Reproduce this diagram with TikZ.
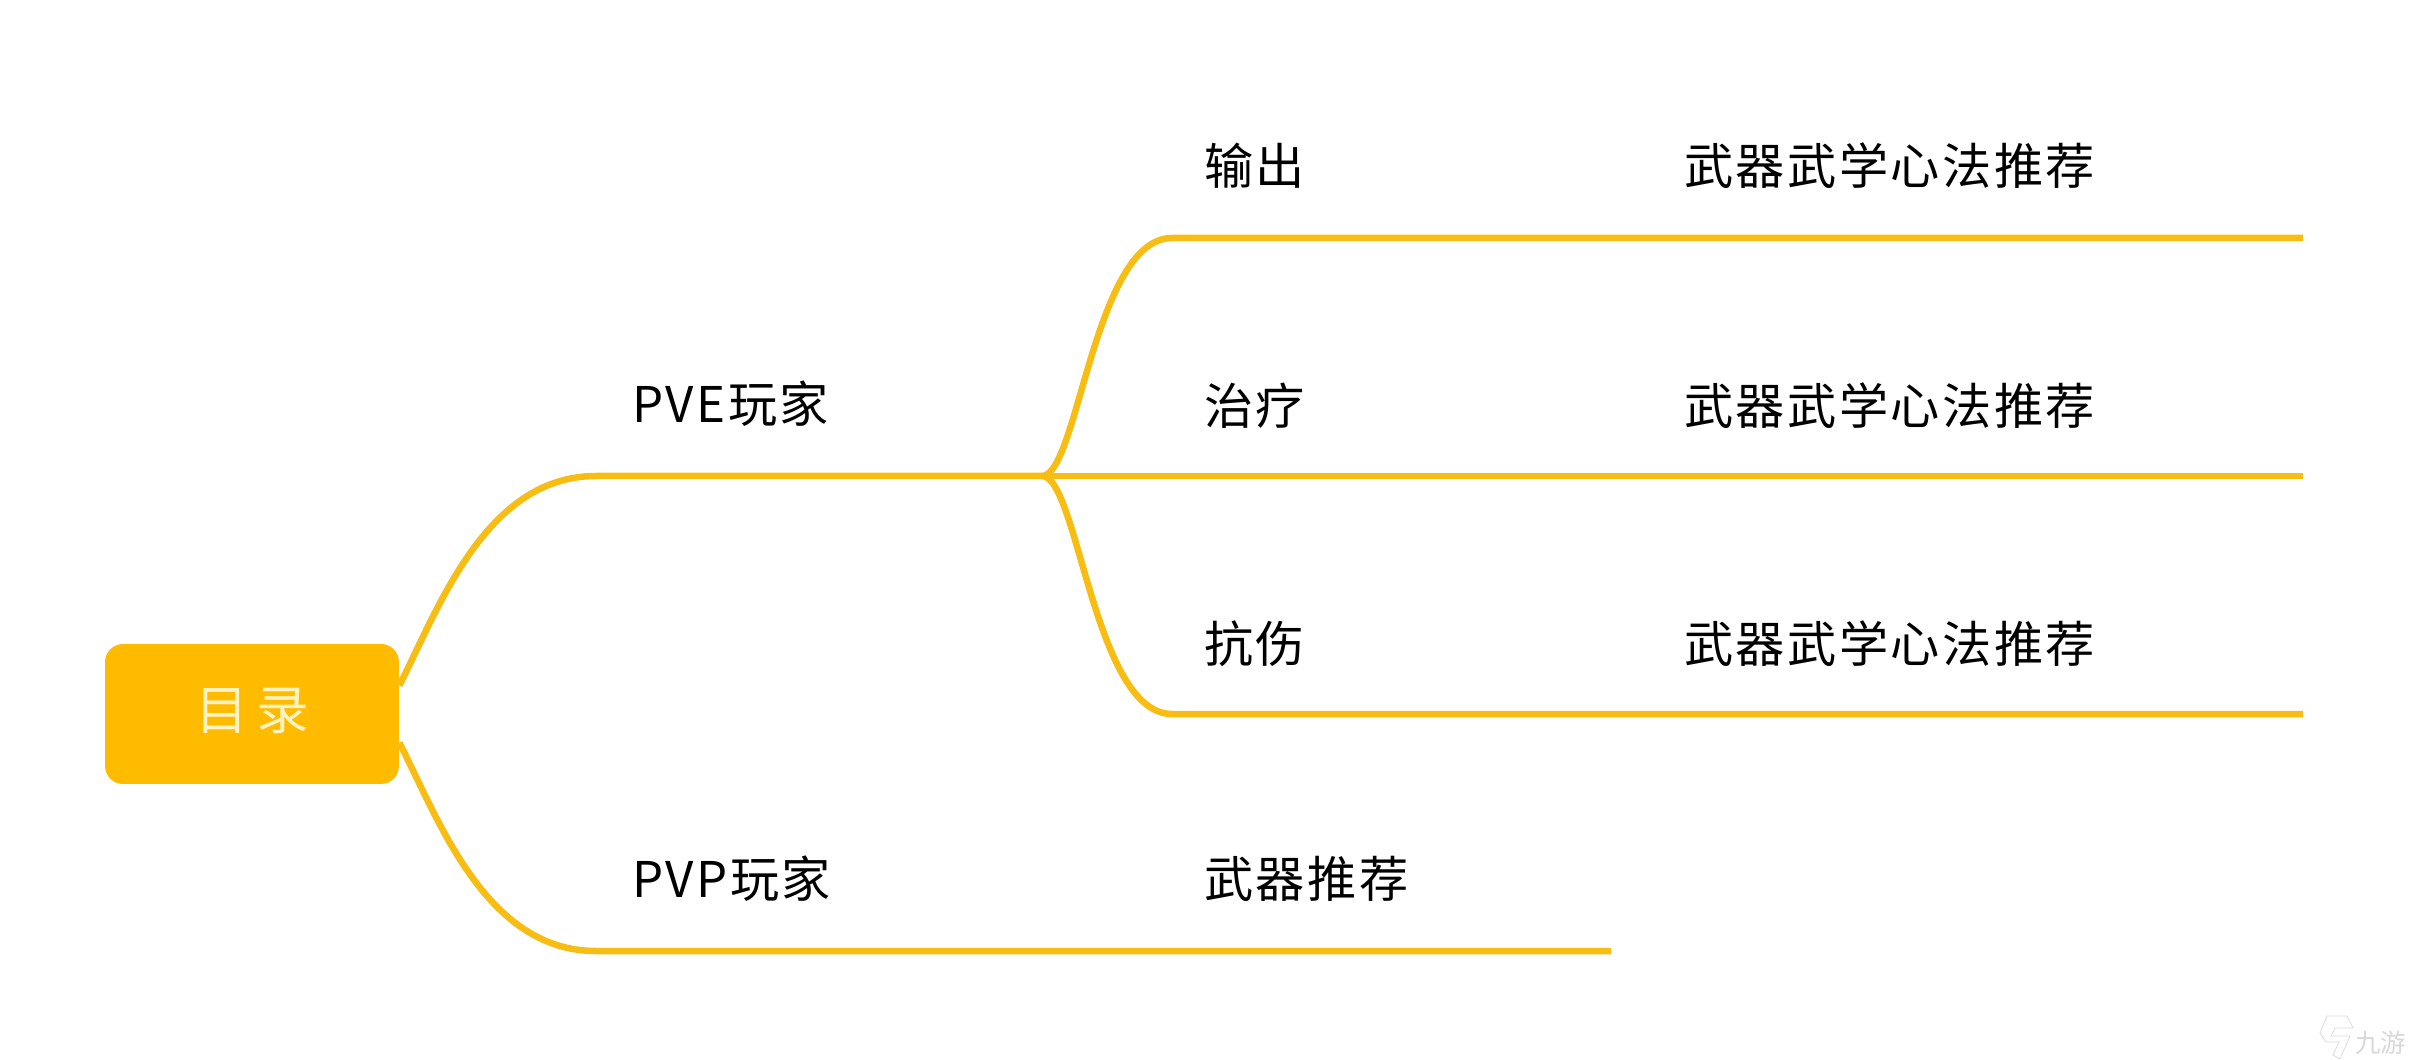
\documentclass[tikz,border=0pt]{standalone}
\usepackage{fontspec}
\setmainfont{Noto Sans CJK SC}
\newfontfamily\spaced[LetterSpace=5]{Noto Sans CJK SC}
\newfontfamily\wide[LetterSpace=16]{Noto Sans CJK SC}
\definecolor{rootfill}{HTML}{FFBB00}
\definecolor{branchline}{HTML}{F7BD12}
\definecolor{rootink}{HTML}{FFF2C2}
\definecolor{markgray}{HTML}{D8D8D8}

\begin{document}
\begin{tikzpicture}[x=0.02cm,y=-0.02cm,
    topic/.style ={rectangle, fill=rootfill, rounded corners=0.36cm, inner sep = 0pt, minimum width=5.88cm, minimum height=2.8cm},
    leaf/.style ={anchor=west, inner sep = 0pt, font=\fontsize{28}{32}\spaced},
    branch/.style ={draw=branchline, line width=0.13cm}]
   \useasboundingbox (0,0) rectangle (2410,1060);

   \node[topic] (root) at (252,714) {\fontsize{30}{34}\wide\raisebox{0.2cm}{\textcolor{rootink}{目录}}};

   \node[leaf] (pve) at (632,404) {PVE玩家};
   \node[leaf] (pvp) at (632,879) {PVP玩家};
   \node[leaf] (dps) at (1204,166) {输出};
   \node[leaf] (heal) at (1204,406) {治疗};
   \node[leaf] (tank) at (1204,644) {抗伤};
   \node[leaf] (dpsrec) at (1684,166) {武器武学心法推荐};
   \node[leaf] (healrec) at (1684,406) {武器武学心法推荐};
   \node[leaf] (tankrec) at (1684,644) {武器武学心法推荐};
   \node[leaf] (pvprec) at (1204,879) {武器推荐};

   \coordinate (pveline) at (596,476);
   \coordinate (pvpline) at (596,951);
   \coordinate (fork) at (1042,476);
   \coordinate (dpsline) at (1172,238);
   \coordinate (tankline) at (1172,714);
   \coordinate (dpsend) at (2303,238);
   \coordinate (healend) at (2303,476);
   \coordinate (tankend) at (2303,714);
   \coordinate (pvpend) at (1611,951);

   \draw[branch] (root.11) .. controls (438,610) and (485,476) .. (pveline) -- (fork);
   \draw[branch] (root.-11) .. controls (438,818) and (485,951) .. (pvpline) -- (pvpend);
   \draw[branch] (fork) .. controls (1078,476) and (1094,238) .. (dpsline) -- (dpsend);
   \draw[branch] (fork) -- (healend);
   \draw[branch] (fork) .. controls (1078,476) and (1094,714) .. (tankline) -- (tankend);

   % corner mark
   \draw[markgray, line width=0.4pt] (2327,1016) -- (2347,1016) -- (2353,1028) -- (2335,1028) -- (2331,1036) -- (2350,1036) -- (2340,1059) -- (2333,1055) -- (2339,1042) -- (2326,1042) -- (2320,1033) -- cycle;
   \node[anchor=west, inner sep = 0pt, text=markgray, font=\fontsize{14.5}{16}\selectfont] (mark) at (2355,1043) {九游};
 \end{tikzpicture}
\end{document}
